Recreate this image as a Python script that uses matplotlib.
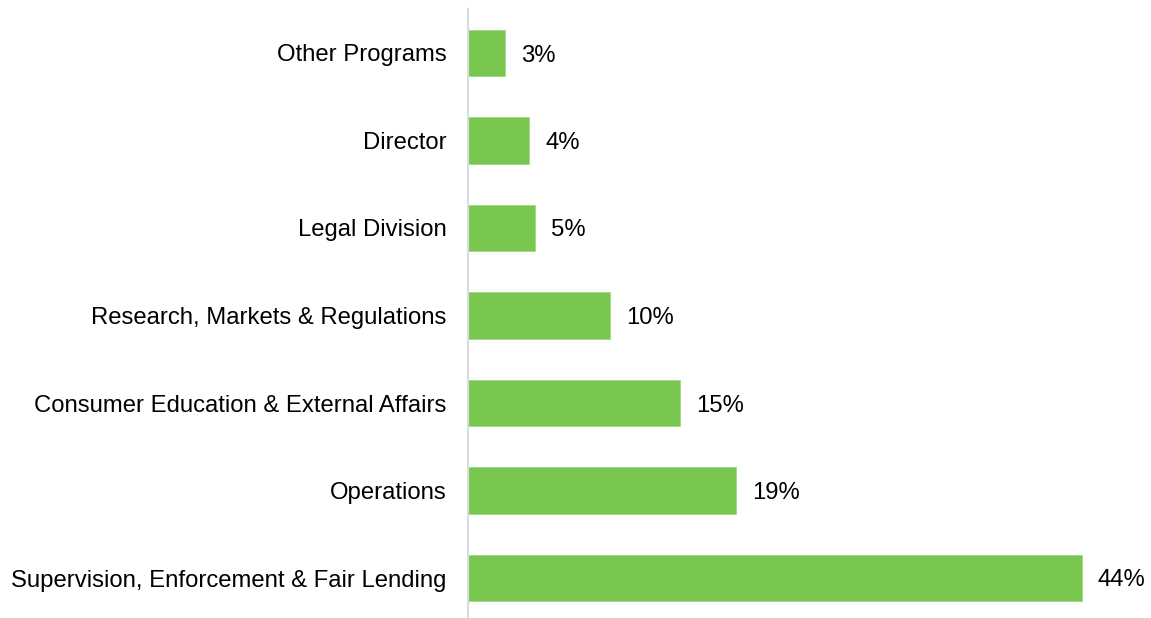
import matplotlib
matplotlib.use("Agg")
import matplotlib.pyplot as plt

categories = ["Supervision, Enforcement & Fair Lending", "Operations",
              "Consumer Education & External Affairs", "Research, Markets & Regulations",
              "Legal Division", "Director", "Other Programs"]
values = [44.0, 19.2, 15.2, 10.2, 4.8, 4.4, 2.65]
labels = ["44%", "19%", "15%", "10%", "5%", "4%", "3%"]

plt.rcParams['font.family'] = ['Liberation Sans', 'DejaVu Sans']

fig = plt.figure(figsize=(11.51, 6.18), dpi=100)
W, H = 1151, 618
left_px, right_px = 468, 1151
top_px, bottom_px = 9.25, 621.75
ax = fig.add_axes([left_px / W, 1 - bottom_px / H, (right_px - left_px) / W, (bottom_px - top_px) / H])

pos = list(range(len(categories)))
ax.barh(pos, values, height=0.53, color="#7AC74F", edgecolor="#9ED886", linewidth=0.6)
ax.set_xlim(0, (right_px - left_px) / 13.95)
ax.set_ylim(-0.5, len(categories) - 0.5)
ax.set_yticks(pos)
ax.set_yticklabels(categories, fontsize=17.2)
ax.tick_params(axis='y', length=0, pad=15.5)
ax.set_xticks([])
for s in ["top", "right", "bottom"]:
    ax.spines[s].set_visible(False)
ax.spines["left"].set_color("#D6DCE5")
ax.spines["left"].set_linewidth(1.5)

for p, v, l in zip(pos, values, labels):
    ax.annotate(l, (v, p), xytext=(16, 0), textcoords="offset pixels",
                va="center_baseline", ha="left", fontsize=17.2, clip_on=False)

fig.savefig("out.png", dpi=100)
